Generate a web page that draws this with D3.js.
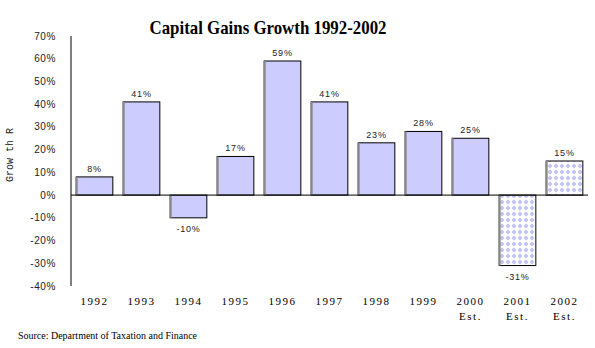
<!DOCTYPE html>
<html><head><meta charset="utf-8">
<script src="https://cdn.jsdelivr.net/npm/d3@7"></script>
<style>body{margin:0;background:#fff}svg{display:block}</style>
</head><body>
<script>
const categories = ["1992","1993","1994","1995","1996","1997","1998","1999","2000","2001","2002"];
const subLabels = ["","","","","","","","","Est.","Est.","Est."];
const values = [8, 41, -10, 17, 59, 41, 23, 28, 25, -31, 15];
const patterned = [false,false,false,false,false,false,false,false,false,true,true];
const yTicks = [70,60,50,40,30,20,10,0,-10,-20,-30,-40];
const title = "Capital Gains Growth 1992-2002";
const yTitle = "Grow th R";
const source = "Source: Department of Taxation and Finance";

const W = 595, H = 348;
const svg = d3.select("body").append("svg").attr("width", W).attr("height", H);
const defs = svg.append("defs");
const pat = defs.append("pattern").attr("id","dia").attr("patternUnits","userSpaceOnUse")
  .attr("width",6).attr("height",6).attr("x",1).attr("y",1);
pat.append("rect").attr("width",6).attr("height",6).attr("fill","#fff");
pat.append("path").attr("d","M3,0.6 L5.4,3 L3,5.4 L0.6,3 Z").attr("fill","#c4c4f6");
pat.append("circle").attr("cx",3).attr("cy",3).attr("r",1.7).attr("fill","#c4c4f6");

const x = d3.scaleBand().domain(categories).range([71, 588]).paddingInner(0.22).paddingOuter(0.11);
const y = d3.scaleLinear().domain([-40, 70]).range([286, 36]);

// title
svg.append("text").attr("x", 268).attr("y", 34).attr("text-anchor","middle")
  .attr("font-family","Liberation Serif").attr("font-weight","bold").attr("font-size",19)
  .attr("textLength",237).attr("lengthAdjust","spacingAndGlyphs").text(title);

// y tick labels
svg.append("g").selectAll("text").data(yTicks).join("text")
  .attr("x", 56).attr("y", d => y(d) + 3.5).attr("text-anchor","end")
  .attr("font-family","Liberation Sans").attr("font-size",10).attr("letter-spacing",0.6)
  .attr("fill","#222").text(d => d + "%");

// y title
svg.append("text").attr("transform","translate(13,155) rotate(-90)").attr("text-anchor","middle")
  .attr("font-family","Liberation Mono").attr("font-size",10).attr("fill","#222").text(yTitle);

// bars
const bars = svg.append("g");
categories.forEach((c, i) => {
  const v = values[i];
  const top = y(Math.max(0, v)), bot = y(Math.min(0, v));
  bars.append("rect").attr("x", x(c)).attr("y", top).attr("width", x.bandwidth()).attr("height", bot - top)
    .attr("fill", patterned[i] ? "url(#dia)" : "#ccccff").attr("stroke","#000").attr("stroke-width",1);
  bars.append("line").attr("x1", x(c)+0.5).attr("x2", x(c)+0.5).attr("y1", top).attr("y2", bot)
    .attr("stroke","#888").attr("stroke-width",2);
  svg.append("text").attr("x", x(c) + x.bandwidth()/2)
    .attr("y", v >= 0 ? y(v) - 5 : y(v) + 14)
    .attr("text-anchor","middle").attr("font-family","Liberation Sans").attr("font-size",9)
    .attr("letter-spacing",0.8).attr("fill","#222").text(v + "%");
});

// axes
svg.append("line").attr("x1",71).attr("x2",71).attr("y1",36).attr("y2",286).attr("stroke","#000");
svg.append("line").attr("x1",71).attr("x2",588).attr("y1",y(0)).attr("y2",y(0)).attr("stroke","#000");

// x labels
const xl = svg.append("g");
categories.forEach((c, i) => {
  const cx = x(c) + x.bandwidth()/2;
  xl.append("text").attr("x", cx).attr("y", 305).attr("text-anchor","middle")
    .attr("font-family","Liberation Serif").attr("font-size",11).attr("letter-spacing",1.5).text(c);
  if (subLabels[i]) xl.append("text").attr("x", cx).attr("y", 320).attr("text-anchor","middle")
    .attr("font-family","Liberation Serif").attr("font-size",11).attr("letter-spacing",1.5).text(subLabels[i]);
});

// source
svg.append("text").attr("x",18).attr("y",339).attr("font-family","Liberation Serif").attr("font-size",11)
  .attr("textLength",179).attr("lengthAdjust","spacingAndGlyphs").text(source);
</script>
</body></html>
